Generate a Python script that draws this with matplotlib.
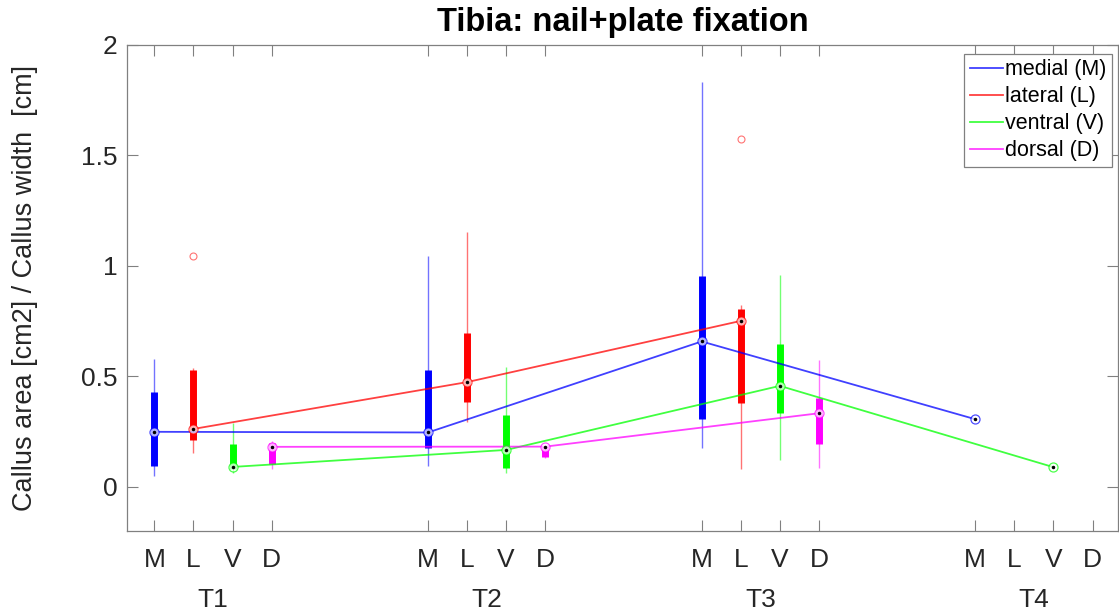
import numpy as np
import matplotlib
matplotlib.use('Agg')
import matplotlib.pyplot as plt
from matplotlib.lines import Line2D

plt.rcParams['font.family'] = ['Liberation Sans', 'DejaVu Sans']

# time points and sites
times = ['T1', 'T2', 'T3', 'T4']
sites = ['M', 'L', 'V', 'D']
site_names = ['medial (M)', 'lateral (L)', 'ventral (V)', 'dorsal (D)']
colors = ['#0000ff', '#ff0000', '#00ff00', '#ff00ff']

# box statistics per site, one value per time point (nan = no data)
medial_med = [0.249, 0.246, 0.658, 0.306]
medial_q1 = [0.092, 0.176, 0.306, 0.306]
medial_q3 = [0.431, 0.529, 0.955, 0.306]
medial_lo = [0.047, 0.092, 0.175, 0.306]
medial_hi = [0.578, 1.045, 1.833, 0.306]

lateral_med = [0.262, 0.474, 0.751, np.nan]
lateral_q1 = [0.210, 0.386, 0.379, np.nan]
lateral_q3 = [0.529, 0.695, 0.807, np.nan]
lateral_lo = [0.154, 0.293, 0.080, np.nan]
lateral_hi = [0.537, 1.152, 0.824, np.nan]
lateral_out = [[1.045], [], [1.576], []]

ventral_med = [0.090, 0.167, 0.457, 0.089]
ventral_q1 = [0.080, 0.084, 0.333, 0.089]
ventral_q3 = [0.195, 0.326, 0.647, 0.089]
ventral_lo = [0.063, 0.062, 0.122, 0.089]
ventral_hi = [0.290, 0.544, 0.959, 0.089]

dorsal_med = [0.181, 0.182, 0.333, np.nan]
dorsal_q1 = [0.104, 0.137, 0.193, np.nan]
dorsal_q3 = [0.200, 0.185, 0.401, np.nan]
dorsal_lo = [0.080, 0.130, 0.085, np.nan]
dorsal_hi = [0.208, 0.185, 0.575, np.nan]

stats = [
    (medial_med, medial_q1, medial_q3, medial_lo, medial_hi, [[], [], [], []]),
    (lateral_med, lateral_q1, lateral_q3, lateral_lo, lateral_hi, lateral_out),
    (ventral_med, ventral_q1, ventral_q3, ventral_lo, ventral_hi, [[], [], [], []]),
    (dorsal_med, dorsal_q1, dorsal_q3, dorsal_lo, dorsal_hi, [[], [], [], []]),
]

fig = plt.figure(figsize=(11.19, 6.14), dpi=100)
ax = fig.add_axes([127 / 1119, 83 / 614, 991 / 1119, 486 / 614])

group_start = np.arange(len(times)) * 7 + 1

for k, (med, q1, q3, lo, hi, out) in enumerate(stats):
    c = colors[k]
    x = group_start + k
    med = np.array(med)
    # whiskers
    ax.vlines(x, lo, hi, color=c, lw=1.0, alpha=0.55, zorder=2)
    # boxes
    ax.vlines(x, q1, q3, color=c, lw=5, zorder=3)
    # median connecting line
    ax.plot(x, med, color=c, lw=1.3, alpha=0.75, zorder=4)
    # median markers
    ax.plot(x, med, 'o', ms=6.5, mfc='white', mec=c, mew=0.9, alpha=0.7, zorder=5)
    ax.plot(x, med, '.', ms=3, color='black', zorder=6)
    # outliers
    for xi, o in zip(x, out):
        if o:
            ax.plot([xi] * len(o), o, 'o', ms=5, mfc='none', mec=c, mew=0.8,
                    alpha=0.55, zorder=4)

tick_pos = np.sort(np.concatenate([group_start + i for i in range(4)]))
ax.set_xticks(tick_pos)
ax.set_xticklabels(sites * len(times))
ax.set_xlim(0.3, 25.65)
ax.set_ylim(-0.2, 2)
ax.set_yticks([0, 0.5, 1, 1.5, 2])
ax.set_yticklabels(['0', '0.5', '1', '1.5', '2'])

ax.tick_params(direction='in', length=8, width=0.8, colors='#808080',
               labelcolor='#262626', labelsize=19, top=True, right=True)
ax.tick_params(axis='x', pad=12)
ax.tick_params(axis='y', pad=7)
for s in ax.spines.values():
    s.set_color('#808080')
    s.set_linewidth(0.9)

for g, t in zip(group_start, times):
    ax.text(g + 1.5, -0.142, t, transform=ax.get_xaxis_transform(),
            ha='center', va='center', fontsize=19, color='#262626')

ax.set_ylabel('Callus area [cm2] / Callus width  [cm]', fontsize=19.5,
              color='#262626')
ax.yaxis.set_label_coords(-0.09, 0.5)
ax.set_title('Tibia: nail+plate fixation', fontsize=23.5, fontweight='bold',
             pad=10)

handles = [Line2D([], [], color=c, lw=1.3, alpha=0.75) for c in colors]
leg = ax.legend(handles, site_names, loc='upper right',
                bbox_to_anchor=(1112 / 1119, (614 - 54) / 614),
                bbox_transform=fig.transFigure, fontsize=15.5, frameon=True,
                fancybox=False, edgecolor='#808080', framealpha=1,
                handlelength=1.55, handletextpad=0.1, borderpad=0.25,
                labelspacing=0.28, borderaxespad=0)
leg.get_frame().set_linewidth(0.9)

fig.savefig('out.png', dpi=100)
